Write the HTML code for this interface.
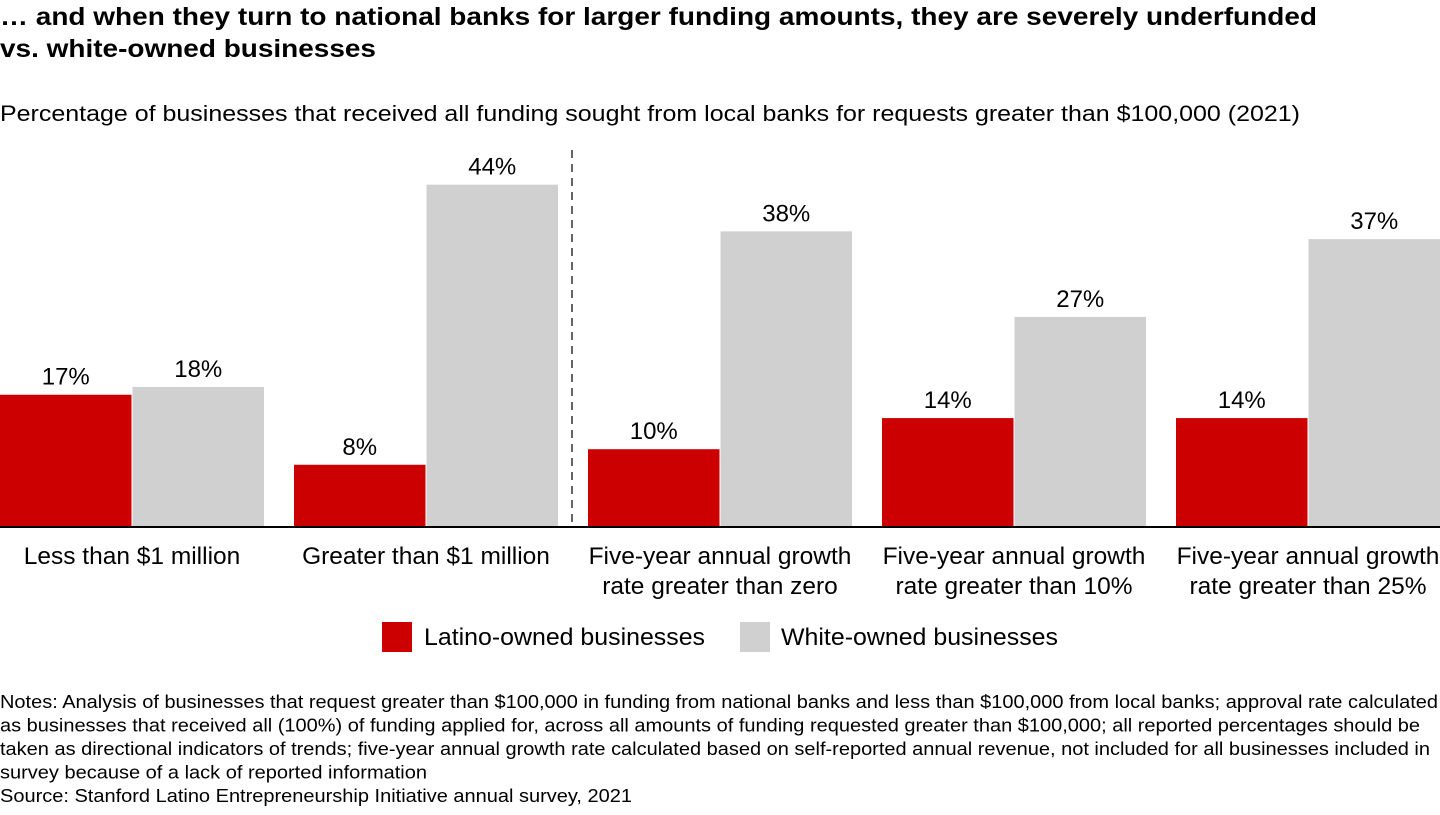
<!DOCTYPE html>
<html><head><meta charset="utf-8"><style>
body{margin:0;width:1440px;height:810px;background:#fff;font-family:"Liberation Sans",Arial,sans-serif;overflow:hidden}
</style></head><body>
<svg width="1440" height="810" xmlns="http://www.w3.org/2000/svg" font-family="Liberation Sans, Arial, sans-serif">
<text x="0" y="25" font-size="25" font-weight="bold" fill="#000" textLength="1317" lengthAdjust="spacingAndGlyphs">… and when they turn to national banks for larger funding amounts, they are severely underfunded</text>
<text x="0" y="57" font-size="25" font-weight="bold" fill="#000" textLength="376" lengthAdjust="spacingAndGlyphs">vs. white-owned businesses</text>
<text x="0" y="121" font-size="22.5" fill="#000" textLength="1300" lengthAdjust="spacingAndGlyphs">Percentage of businesses that received all funding sought from local banks for requests greater than $100,000 (2021)</text>
<g id="bars"></g>
<line x1="572" y1="150" x2="572" y2="527" stroke="#333" stroke-width="1.5" stroke-dasharray="8,6"/>
<line x1="0" y1="527" x2="1440" y2="527" stroke="#000" stroke-width="2"/>
<rect x="382" y="622" width="30" height="30" fill="#cc0000"/>
<text x="424" y="645" font-size="24" textLength="281" lengthAdjust="spacingAndGlyphs">Latino-owned businesses</text>
<rect x="740" y="622" width="30" height="30" fill="#d0d0d0"/>
<text x="781" y="645" font-size="24" textLength="277" lengthAdjust="spacingAndGlyphs">White-owned businesses</text>
<g font-size="18" fill="#000">
<text x="0" y="708" textLength="1438" lengthAdjust="spacingAndGlyphs">Notes: Analysis of businesses that request greater than $100,000 in funding from national banks and less than $100,000 from local banks; approval rate calculated</text>
<text x="0" y="731.5" textLength="1420" lengthAdjust="spacingAndGlyphs">as businesses that received all (100%) of funding applied for, across all amounts of funding requested greater than $100,000; all reported percentages should be</text>
<text x="0" y="755" textLength="1430" lengthAdjust="spacingAndGlyphs">taken as directional indicators of trends; five-year annual growth rate calculated based on self-reported annual revenue, not included for all businesses included in</text>
<text x="0" y="778.5" textLength="427" lengthAdjust="spacingAndGlyphs">survey because of a lack of reported information</text>
<text x="0" y="802" textLength="632" lengthAdjust="spacingAndGlyphs">Source: Stanford Latino Entrepreneurship Initiative annual survey, 2021</text>
</g>
</svg>
<script>
const categories=[["Less than $1 million"],["Greater than $1 million"],["Five-year annual growth","rate greater than zero"],["Five-year annual growth","rate greater than 10%"],["Five-year annual growth","rate greater than 25%"]];
const latino=[17,8,10,14,14];
const white=[18,44,38,27,37];
const NS="http://www.w3.org/2000/svg";
const g=document.getElementById('bars');
const base=527, perPct=7.78, groupW=294, barW=131.5;
function y(v){return base-v*perPct;}
function gx(i){return i*groupW;}
function mk(tag,attrs){const e=document.createElementNS(NS,tag);for(const k in attrs)e.setAttribute(k,attrs[k]);g.appendChild(e);return e;}
categories.forEach((c,i)=>{
  [[latino,'#cc0000',0,'latino'],[white,'#d0d0d0',barW+1,'white']].forEach(([arr,col,off,nm])=>{
    const x=gx(i)+off;
    const r=mk('rect',{x:x,y:y(arr[i]),width:barW,height:base-y(arr[i]),fill:col});
    
    
    const t=mk('text',{x:x+barW/2,y:y(arr[i])-10,'text-anchor':'middle','font-size':24});
    t.textContent=arr[i]+'%';
    
    
  });
  c.forEach((line,j)=>{
    const t=mk('text',{x:gx(i)+barW+0.5,y:564+j*30,'text-anchor':'middle','font-size':24.5});
    t.textContent=line;
    
    
  });
});
</script>
</body></html>
